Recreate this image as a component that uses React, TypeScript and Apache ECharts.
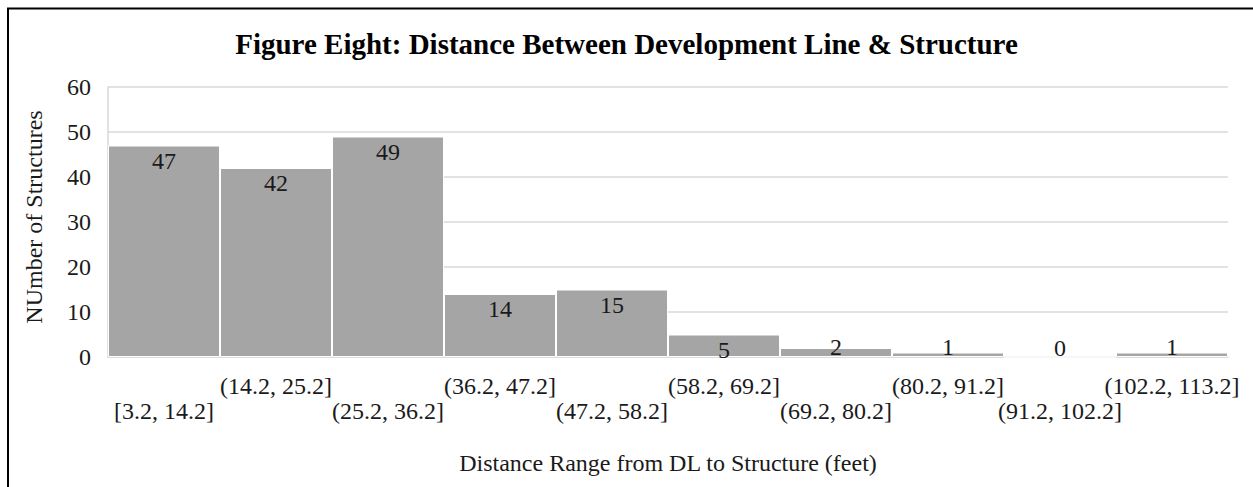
import React, { useEffect, useRef } from "react";
import * as echarts from "echarts";

const categories = [
  "[3.2, 14.2]",
  "(14.2, 25.2]",
  "(25.2, 36.2]",
  "(36.2, 47.2]",
  "(47.2, 58.2]",
  "(58.2, 69.2]",
  "(69.2, 80.2]",
  "(80.2, 91.2]",
  "(91.2, 102.2]",
  "(102.2, 113.2]",
];
const counts = [47, 42, 49, 14, 15, 5, 2, 1, 0, 1];
const yTicks = { min: 0, max: 60, interval: 10 };

const titleText = "Figure Eight: Distance Between Development Line & Structure";
const xName = "Distance Range from DL to Structure (feet)";
const yName = "NUmber of Structures";

const FONT = "'Liberation Serif', 'Times New Roman', serif";
const TEXT = "#1a1a1a";

export default function App() {
  const ref = useRef<HTMLDivElement>(null);
  useEffect(() => {
    if (!ref.current) return;
    const chart = echarts.init(ref.current, undefined, { renderer: "svg" });
    chart.setOption({
      animation: false,
      backgroundColor: "#ffffff",
      textStyle: { fontFamily: FONT },
      title: {
        text: titleText,
        left: "center",
        top: 29,
        padding: 0,
        textStyle: { fontFamily: FONT, fontWeight: "bold", fontSize: 29, color: "#000" },
      },
      graphic: [
        { type: "line", shape: { x1: 7, y1: 8.5, x2: 1253, y2: 8.5 }, style: { stroke: "#000", lineWidth: 2 } },
        { type: "line", shape: { x1: 8, y1: 8, x2: 8, y2: 487 }, style: { stroke: "#000", lineWidth: 2 } },
      ],
      grid: { left: 108, right: 25, top: 87, bottom: 130, containLabel: false },
      xAxis: {
        type: "category",
        data: categories,
        axisLine: { show: true, lineStyle: { color: "#d9d9d9", width: 1.5 } },
        axisTick: { show: false },
        axisLabel: {
          interval: 0,
          margin: 16,
          fontFamily: FONT,
          fontSize: 24,
          color: TEXT,
          lineHeight: 25,
          formatter: (v: string, i: number) => (i % 2 === 0 ? "\n" + v : v),
        },
        name: xName,
        nameLocation: "middle",
        nameGap: 94,
        nameTextStyle: { fontFamily: FONT, fontSize: 24, color: TEXT },
      },
      yAxis: {
        type: "value",
        min: yTicks.min,
        max: yTicks.max,
        interval: yTicks.interval,
        axisLine: { show: true, lineStyle: { color: "#d9d9d9", width: 1.5 } },
        axisTick: { show: false },
        splitLine: { show: true, lineStyle: { color: "#d9d9d9", width: 1.5 } },
        axisLabel: { margin: 17, fontFamily: FONT, fontSize: 24, color: TEXT },
        name: yName,
        nameLocation: "middle",
        nameGap: 62,
        nameTextStyle: { fontFamily: FONT, fontSize: 24, color: TEXT, padding: [0, 0, 0, 10] },
      },
      series: [
        {
          type: "bar",
          barCategoryGap: "0%",
          data: counts.map((v) => ({
            value: v,
            label: v >= 5 ? { position: "insideTop", distance: 3 } : { position: "insideBottom", distance: -2 },
          })),
          itemStyle: { color: "#a5a5a5", borderColor: "#ffffff", borderWidth: 1 },
          label: { show: true, fontFamily: FONT, fontSize: 24, color: TEXT },
        },
      ],
    });
    return () => chart.dispose();
  }, []);
  return (
    <div
      ref={ref}
      style={{ position: "fixed", left: 0, top: 0, width: 1253, height: 487 }}
    />
  );
}
